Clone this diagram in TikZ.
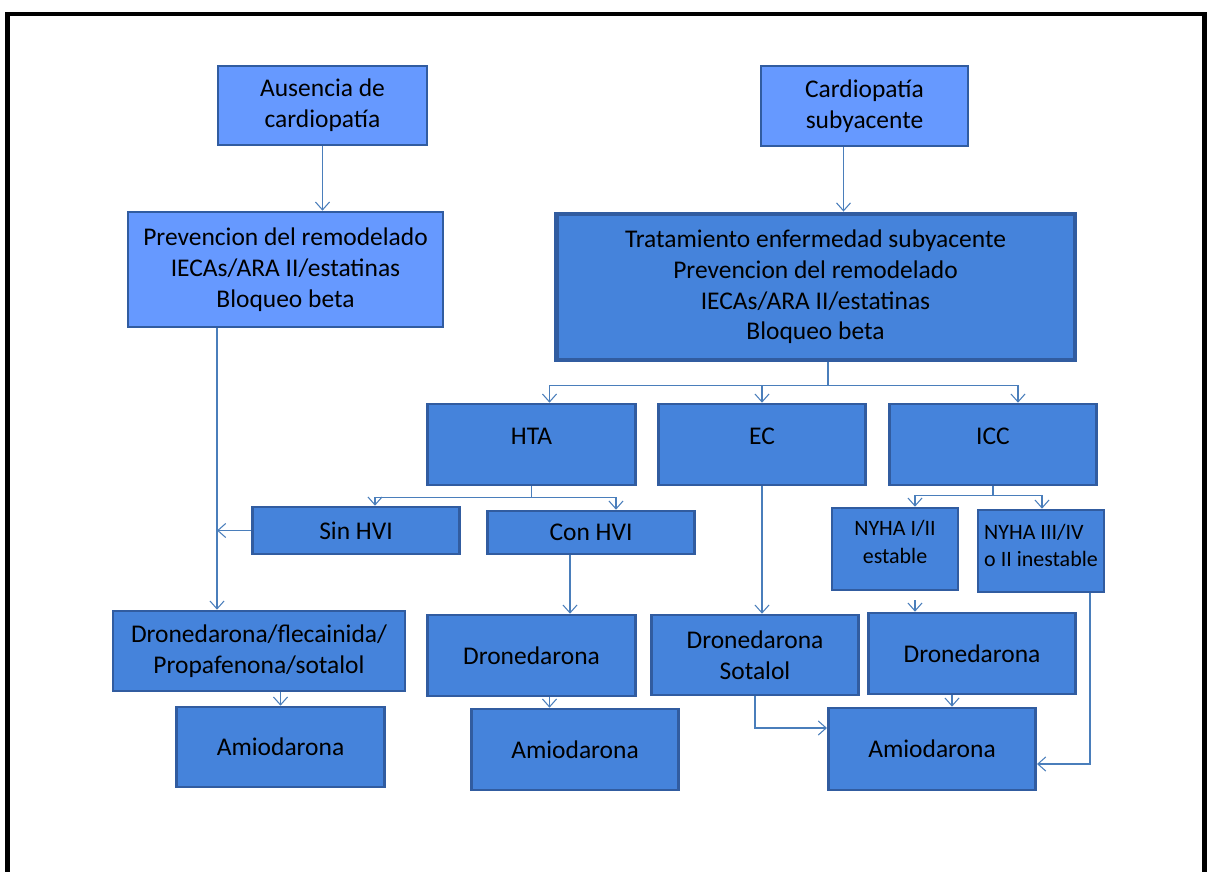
\documentclass[tikz,border=0pt]{standalone}
\usepackage{fontspec}
\setmainfont{Carlito}
\usetikzlibrary{arrows.meta, positioning}
\definecolor{boxlight}{RGB}{102, 153, 255}
\definecolor{boxdark}{RGB}{69, 131, 219}
\definecolor{boxedge}{RGB}{49, 92, 160}
\definecolor{linkblue}{RGB}{74, 126, 187}

\begin{document}
\begin{tikzpicture}[
  x=0.02cm, y=-0.02cm,
  box/.style={rectangle, draw=boxedge, line width=1.5pt, fill=boxdark,
              minimum width=4.15cm, minimum height=1.6cm, inner sep=0pt,
              align=center, font=\fontsize{14.5}{17.5}\selectfont},
  light/.style={box, fill=boxlight},
  narrow/.style={box, minimum width=2.52cm, minimum height=1.64cm,
                 font=\fontsize{12.5}{15.5}\selectfont},
  raised/.style={text height=10pt, text depth=10pt},
  arr/.style={-{Straight Barb[length=4.5pt, width=8pt]}, line width=0.6pt, linkblue}
]
  \useasboundingbox (0,0) rectangle (1207,872);
  \draw[line width=2.8pt] (7.5,900) -- (7.5,14) -- (1204.5,14) -- (1204.5,900);

  % top row
  \node[light, minimum width=4.18cm, minimum height=1.58cm] (ausencia) at (322.5,105.5) {Ausencia de\\cardiopatía};
  \node[light, minimum width=4.14cm] (cardio) at (864.5,106) {Cardiopatía\\subyacente};
  \node[light, minimum width=6.3cm, minimum height=2.3cm] (prev) at (285.5,269.5)
    {Prevencion del remodelado\\IECAs/ARA II/estatinas\\Bloqueo beta};
  \node[box, line width=2.8pt, minimum width=10.38cm, minimum height=2.92cm] (trat) at (815.5,287)
    {Tratamiento enfermedad subyacente\\Prevencion del remodelado\\IECAs/ARA II/estatinas\\Bloqueo beta};

  % causes
  \node[box, raised, minimum height=1.62cm] (hta) at (531.5,444.5) {HTA};
  \node[box, raised, minimum height=1.62cm] (ec) at (762,444.5) {EC};
  \node[box, raised, minimum height=1.62cm] (icc) at (993,444.5) {ICC};

  % subgroups
  \node[box, minimum height=0.94cm] (sin) at (356,530.5) {Sin HVI};
  \node[box, minimum height=0.86cm] (con) at (591,532.5) {Con HVI};
  \node[narrow, text depth=8pt] (nyha1) at (895,549) {NYHA I/II\\estable};
  \node[narrow, align=left, text depth=6pt] (nyha3) at (1041,551) {NYHA III/IV\\o II inestable};

  % drugs
  \node[box, minimum width=5.84cm] (dfp) at (259,651) {Dronedarona/flecainida/\\Propafenona/sotalol};
  \node[box, minimum height=1.62cm] (dron2) at (531.5,655.5) {Dronedarona};
  \node[box] (drso) at (755,655) {Dronedarona\\Sotalol};
  \node[box, minimum height=1.62cm] (dron4) at (972,653.5) {Dronedarona};
  \node[box] (amio1) at (280.5,747) {Amiodarona};
  \node[box, minimum height=1.62cm] (amio2) at (575,749.5) {Amiodarona};
  \node[box, minimum height=1.64cm] (amio3) at (932,749) {Amiodarona};

  % links
  \draw[arr] (ausencia.south) -- (ausencia.south |- prev.north);
  \draw[arr] ([xshift=-0.42cm]cardio.south) -- ([xshift=-0.42cm]cardio.south |- trat.north);
  \coordinate (pv) at ([xshift=-1.37cm]prev.south);
  \draw[arr] (pv) -- (pv |- dfp.north);
  \draw[arr] (sin.west) -- (sin.west -| pv);

  \coordinate (tb) at ([xshift=0.25cm]trat.south);
  \draw[arr] (tb) -- ++(0,23) -| ([xshift=0.36cm]hta.north);
  \draw[arr] (tb) -- ++(0,23) -| (ec.north);
  \draw[arr] (tb) -- ++(0,23) -| ([xshift=0.5cm]icc.north);

  \draw[arr] (hta.south) -- ++(0,11) -| ([xshift=0.38cm]sin.north);
  \draw[arr] (hta.south) -- ++(0,11) -| ([xshift=0.5cm]con.north);
  \draw[arr] (icc.south) -- ++(0,9) -| ([xshift=0.4cm]nyha1.north);
  \draw[arr] (icc.south) -- ++(0,9) -| ([xshift=0.02cm]nyha3.north);

  \draw[arr] ([xshift=-0.42cm]con.south) -- ([xshift=-0.42cm]con.south |- dron2.north);
  \draw[arr] (ec.south) -- (ec.south |- drso.north);
  \draw[arr, shorten <=0.18cm] ([xshift=0.4cm]nyha1.south) -- ([xshift=0.4cm]nyha1.south |- dron4.north);

  \draw[arr] (dfp.south -| amio1) -- (amio1.north);
  \draw[arr] ([xshift=0.36cm]dron2.south) -- ([xshift=0.36cm]dron2.south |- amio2.north);
  \draw[arr] (drso.south) |- ([yshift=0.42cm]amio3.west);
  \draw[arr] ([xshift=-0.4cm]dron4.south) -- ([xshift=-0.4cm]dron4.south |- amio3.north);
  \draw[arr] ([xshift=0.98cm]nyha3.south) |- ([yshift=-0.3cm]amio3.east);
\end{tikzpicture}
\end{document}
